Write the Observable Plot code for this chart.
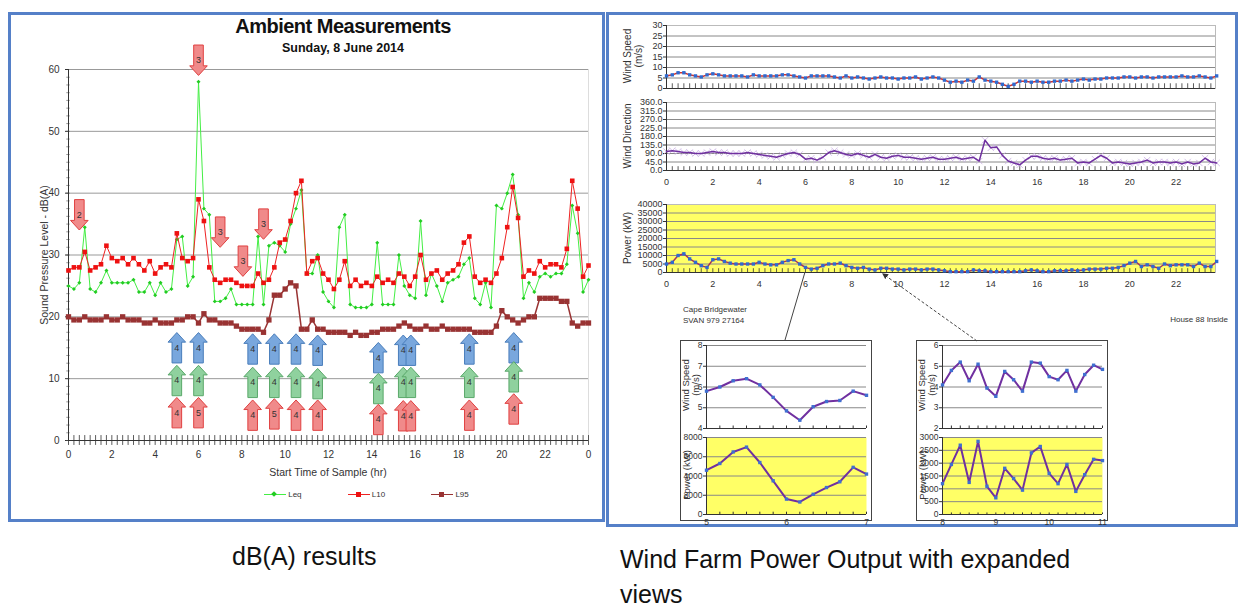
<!DOCTYPE html>
<html><head><meta charset="utf-8">
<script src="https://cdn.jsdelivr.net/npm/d3@7"></script>
<script src="https://cdn.jsdelivr.net/npm/@observablehq/plot@0.6"></script>
<style>
body{margin:0;background:#fff;}
#root{position:relative;width:1241px;height:609px;overflow:hidden;font-family:"Liberation Sans Narrow","Liberation Sans",Arial,sans-serif;}
.abs{position:absolute;}
.frame{position:absolute;border:3px solid #5580c8;box-sizing:border-box;background:#fff;}
.box{position:absolute;border:1.5px solid #444;box-sizing:border-box;}
.vl{position:absolute;transform:translate(-50%,-50%) rotate(-90deg);white-space:nowrap;color:#333;text-align:center;line-height:1.05;}
</style></head>
<body><div id="root"></div>
<script>
// ---------- DATA ----------
const sampleStep = 0.25;
const L10 = [27.5,28,28,30.5,27.5,28,28.5,31.5,29.5,29,29.5,28.5,29.5,28.5,27.5,29,
 27,28,28.5,28,33.5,29.5,29,29.5,39,35.5,28,26,25.5,26,26,25.5,
 25,25,25,27,25.5,26,28,32,32.5,35.5,40,42,27,29,29.5,27,
 26,24.5,26,29,25,26,25,25.5,25,26.5,25.5,26,25.5,27,26.5,25,
 26.5,30,26,27,27.5,26,27,27.5,28.5,32,33,26.5,25.5,26,25.5,27,
 29.5,34.5,41,36,26.5,27.5,27,29,28,28.5,28.5,28,31,42,37.5,26.5,28.3];
const Leq = [25,24.5,25.5,34.5,24.5,24,25.5,27.5,25.5,25.5,25.5,25.5,26,24,24,25.5,
 23.5,25.5,24,24.5,32.5,33,25,26.5,58,37.5,36.5,22.5,22.5,23,24.5,22,
 22,22,22,33,22,31.5,32,31.5,30.5,35,37.5,40.5,27,27,30,24,
 22.5,21.5,34.5,36.5,22,21.5,21.5,21.5,22,32,22,22,22,30,25,23.5,
 23,35.5,23.5,27,25,22.5,25.5,26,26.5,28.5,29.5,23,22,25.5,21.5,38,
 37.5,40,43,36.5,23,25.5,24,26.5,27,26.5,27,27,28.5,38,33.5,24,26];
const L95 = [20,19.5,19.5,20,19.5,19.5,19.5,20,19.5,19.5,20,19.5,19.5,19.5,19,19,
 19.5,19,19,19,19.5,19.5,20,20,19,20.5,19.5,19.5,19,19,19,18.5,
 18,18,18,18,17.5,19.5,23.5,23.5,24.5,25.5,25,18,18,19.5,18,18,
 17.5,17.5,17.5,17.5,17,17.5,17,17,17.5,17.5,18,18,18,18.5,19,18.5,
 18,18,18.5,18,18,18.5,18,18,18,18,18,17.5,17.5,17.5,17.5,18.5,
 21,20,19.5,19,19.5,20,20,23,23,23,23,22.5,22.5,19,18.5,19,19];
const upArrowHours = [5.0,6.0,8.5,9.5,10.5,11.5,14.3,15.45,15.8,18.5,20.55];
const blueY  = [15,15,14.8,14.8,14.8,14.6,13.4,14.6,14.6,14.8,15];
const greenY = [9.7,9.7,9.4,9.4,9.4,9.2,8.4,9.4,9.4,9.4,10.3];
const redY   = [4.5,4.5,4.1,4.3,4.1,4.1,3.4,4.0,4.0,4.1,5.1];
const redLabels = ["4","5","4","5","4","4","4","4","4","4","4"];
const downArrowHours = [0.5,6.0,7.0,8.05,9.0];
const downArrowY = [36.5,61.5,33.7,29,35];
const downLabels = ["2","3","3","3","3"];

const windSpeed = [6,6.5,7.5,7.5,6.5,6,5.5,6.5,7,6.5,6,6,6,6,5.5,6.5,
 6,6,6,6,6.5,6.5,6,5.5,5,6,6,6,6,5.5,5,6,
 5,5.5,5,4.5,5,5.5,5,5,4.5,5,5,5.5,4.5,5,5.5,5,
 4,3,3.5,3,4,3.5,5.5,4,3.5,3,2,1,2,3.5,3.5,3,
 3.5,3,3,3.5,3.5,4,3.5,4,4.5,4,4.5,4.5,5,5,5,5.5,
 5.5,5,5.5,5.5,5,5.5,5.5,5.5,5.5,6,5.5,5.5,6,5.5,5,6];
const windDir = [100,105,100,95,95,90,90,95,100,95,95,90,90,90,95,90,
 85,80,75,70,80,90,95,85,60,65,55,70,95,105,95,85,
 80,90,80,70,85,70,65,75,80,70,70,65,60,65,70,60,
 60,65,70,60,65,70,50,160,120,125,80,50,40,30,55,75,
 75,65,60,65,55,60,65,40,45,40,60,80,65,40,45,40,
 35,40,45,55,40,45,45,40,45,35,45,35,40,65,45,40];
const power = [5000,6000,10000,11000,8000,6000,4000,3000,7500,8000,6500,5500,5000,5000,5000,5000,
 6000,5000,4500,4500,6000,7000,7500,5000,3000,2000,2500,4000,5000,5000,5500,4000,
 3000,2500,3000,2000,1500,2500,2500,2000,2000,1500,2000,2000,1500,2000,2000,1500,
 1000,500,500,500,500,1500,1000,1000,500,500,500,500,500,500,1000,1500,
 1000,500,500,1000,1000,1000,1500,1000,1500,2000,2000,2000,2500,2500,3000,4000,
 5500,6500,3500,4500,3500,2500,5000,4000,4500,4500,4500,3500,5500,3500,3500,6500];
const insetStep = 1/6;
const insetA_start = 5, insetB_start = 8;
const insetA_speed = [5.8,6.0,6.3,6.4,6.1,5.5,4.85,4.4,5.05,5.3,5.35,5.8,5.6];
const insetA_power = [4600,5300,6500,7000,5400,3500,1600,1300,2100,2800,3400,4900,4200];
const insetB_speed = [4.1,4.8,5.2,4.3,5.1,3.95,3.55,4.75,4.35,3.8,5.2,5.15,4.5,4.35,4.8,3.8,4.6,5.05,4.85];
const insetB_power = [1200,1950,2700,1250,2850,1100,650,1800,1400,950,2400,2650,1600,1200,1950,900,1550,2150,2100];

// ---------- HELPERS ----------
const root = document.getElementById("root");
const FONT = '"Liberation Sans Narrow","Liberation Sans",Arial,sans-serif';
const plain = d => String(d);
function place(el, left, top){ el.style.position="absolute"; el.style.left=left+"px"; el.style.top=top+"px"; root.append(el); return el; }
function div(cls, html, css){ const d=document.createElement("div"); d.className=cls; d.innerHTML=html; Object.assign(d.style, css||{}); root.append(d); return d; }
function vlabel(html, cx, cy, size){ div("vl", html, {left:cx+"px", top:cy+"px", fontSize:size+"px"}); }
const series = (arr, step, start=0) => arr.map((v,i)=>({t:start+i*step, v}));

div("frame","",{left:"8px",top:"12px",width:"597px",height:"510px"});
div("frame","",{left:"606px",top:"12px",width:"632px",height:"515px"});

// ---------- LEFT CHART ----------
div("abs","Ambient Measurements",{left:"180px",width:"326px",top:"15px",textAlign:"center",fontSize:"20px",fontWeight:"bold",color:"#111",letterSpacing:"-0.5px"});
div("abs","Sunday, 8 June 2014",{left:"180px",width:"326px",top:"41px",textAlign:"center",fontSize:"12.5px",fontWeight:"bold",color:"#111"});

const upSym = {draw(c,size){const r=Math.sqrt(size/Math.PI);
  c.moveTo(0,-1.9*r); c.lineTo(1.1*r,-0.7*r); c.lineTo(0.6*r,-0.7*r); c.lineTo(0.6*r,1.9*r);
  c.lineTo(-0.6*r,1.9*r); c.lineTo(-0.6*r,-0.7*r); c.lineTo(-1.1*r,-0.7*r); c.closePath();}};
const downSym = {draw(c,size){const r=Math.sqrt(size/Math.PI);
  c.moveTo(0,1.9*r); c.lineTo(1.1*r,0.7*r); c.lineTo(0.6*r,0.7*r); c.lineTo(0.6*r,-1.9*r);
  c.lineTo(-0.6*r,-1.9*r); c.lineTo(-0.6*r,0.7*r); c.lineTo(-1.1*r,0.7*r); c.closePath();}};

const dL10 = series(L10, sampleStep), dLeq = series(Leq, sampleStep), dL95 = series(L95, sampleStep);
const up = [];
upArrowHours.forEach((h,i)=>{
  up.push({t:h, y:blueY[i], fill:"#79a7dd", stroke:"#4a7ebb", label:"4"});
  up.push({t:h, y:greenY[i], fill:"#8fd19e", stroke:"#5aa86a", label:"4"});
  up.push({t:h, y:redY[i], fill:"#f08a8a", stroke:"#e04040", label:redLabels[i]});
});
const down = downArrowHours.map((h,i)=>({t:h, y:downArrowY[i], label:downLabels[i]}));
const minor = d3.range(0, 24.001, 0.25);

const left = Plot.plot({
  width:590, height:440, marginLeft:58, marginRight:12, marginTop:29, marginBottom:40,
  style:{fontFamily:FONT, fontSize:"10px", color:"#333", background:"transparent"},
  x:{domain:[0,24], axis:null}, y:{domain:[0,60], axis:null},
  marks:[
    Plot.gridY(d3.range(10,61,10), {stroke:"#999", strokeOpacity:1}),
    Plot.ruleX([24], {stroke:"#ddd"}),
    Plot.axisY({ticks:d3.range(0,61,10), tickSize:3, label:null}),
    Plot.ruleY(d3.range(0,60,1.25), {x1:-0.08, x2:0.08, stroke:"#555", strokeWidth:0.6}),
    Plot.axisX({ticks:d3.range(0,25,2), tickFormat:d=>d%24, tickSize:0, tickPadding:10, label:null}),
    Plot.ruleX(minor, {y1:-0.8, y2:0.8, stroke:"#333", strokeWidth:0.8}),
    Plot.ruleY([0], {stroke:"#333"}),
    Plot.ruleX([0], {stroke:"#333"}),
    Plot.line(dL95, {x:"t", y:"v", stroke:"#993333", strokeWidth:1.5}),
    Plot.dot(dL95, {x:"t", y:"v", symbol:"square", r:3, fill:"#993333"}),
    Plot.line(dLeq, {x:"t", y:"v", stroke:"#44ee44", strokeWidth:1}),
    Plot.dot(dLeq, {x:"t", y:"v", symbol:"diamond2", r:1.8, fill:"#22cc22", stroke:"none"}),
    Plot.line(dL10, {x:"t", y:"v", stroke:"#ee2222", strokeWidth:1}),
    Plot.dot(dL10, {x:"t", y:"v", symbol:"square", r:2.6, fill:"#ee1111"}),
    Plot.dot(up, {x:"t", y:"y", symbol:upSym, r:8, fill:d=>d.fill, stroke:d=>d.stroke, strokeWidth:1}),
    Plot.text(up, {x:"t", y:"y", text:"label", fontSize:9, fill:"#333"}),
    Plot.dot(down, {x:"t", y:"y", symbol:downSym, r:8, fill:"#f08a8a", stroke:"#e04040", strokeWidth:1}),
    Plot.text(down, {x:"t", y:"y", text:"label", fontSize:9, fill:"#333"})
  ]
});
place(left, 10, 40);
div("abs","Start Time of Sample (hr)",{left:"228px",width:"200px",top:"466px",textAlign:"center",fontSize:"10.5px",color:"#333"});
vlabel("Sound Pressure Level - dB(A)", 45, 255, 10.5);
div("abs",
 '<span style="display:inline-block;width:22px;border-top:1px solid #44ee44;vertical-align:middle;position:relative"><span style="position:absolute;left:8px;top:-3px;width:4px;height:4px;background:#22cc22;transform:rotate(45deg)"></span></span> Leq'+
 '<span style="display:inline-block;width:46px"></span><span style="display:inline-block;width:22px;border-top:1px solid #e22;vertical-align:middle;position:relative"><span style="position:absolute;left:8px;top:-3px;width:5px;height:5px;background:#e11"></span></span> L10'+
 '<span style="display:inline-block;width:46px"></span><span style="display:inline-block;width:22px;border-top:1.5px solid #933;vertical-align:middle;position:relative"><span style="position:absolute;left:8px;top:-3px;width:5px;height:5px;background:#933"></span></span> L95',
 {left:"264px",top:"490px",fontSize:"8px",color:"#333",whiteSpace:"nowrap"});

// ---------- RIGHT MAIN CHARTS ----------
const RX = [0, 23.7];
const rStyle = {fontFamily:FONT, fontSize:"9px", color:"#333", background:"transparent"};
const rMinor = d3.range(0, 23.7, 0.25);
function rightPlot({data, yTicks, yFmt, height, mt, mb, showX, yellow, lineColor, dotColor, extra}){
  return Plot.plot({
    width:610, height, marginLeft:54, marginRight:7, marginTop:mt, marginBottom:mb,
    style:rStyle, x:{domain:RX, axis:null}, y:{domain:[yTicks[0], yTicks[yTicks.length-1]], axis:null},
    marks:[
      yellow ? Plot.frame({fill:"#ffff66", stroke:"none"}) : null,
      Plot.gridY(yTicks, {stroke:"#888", strokeOpacity:1}),
      Plot.frame({stroke:"#bbb"}),
      Plot.axisY({ticks:yTicks, tickFormat:yFmt, tickSize:3, tickPadding:1, label:null}),
      showX ? Plot.axisX({ticks:d3.range(0,23,2), tickSize:0, tickPadding:8, label:null}) : null,
      Plot.ruleX(rMinor, {y1:yTicks[0], y2:yTicks[0]+(yTicks[1]-yTicks[0])*0.45, stroke:"#333", strokeWidth:0.8}),
      Plot.ruleY([yTicks[0]], {stroke:"#333"}),
      Plot.ruleX([0], {stroke:"#333"}),
      ...(extra||[]),
      Plot.line(data, {x:"t", y:"v", stroke:lineColor, strokeWidth:1.5}),
      dotColor ? Plot.dot(data, {x:"t", y:"v", symbol:"square", r:1.9, fill:dotColor}) : null
    ]
  });
}
const dWS = series(windSpeed, sampleStep), dWD = series(windDir, sampleStep), dPW = series(power, sampleStep);
place(rightPlot({data:dWS, yTicks:d3.range(0,31,5), yFmt:plain, height:84, mt:15, mb:6, showX:false, lineColor:"#cc3333", dotColor:"#2f6bd0"}), 612, 10);
place(rightPlot({data:dWD, yTicks:d3.range(0,361,45), yFmt:d=>d.toFixed(1), height:106, mt:13, mb:25, showX:true, lineColor:"#7030a0", dotColor:null,
  extra:[Plot.dot(dWD, {x:"t", y:"v", symbol:"times", r:3, stroke:"#c9b0e3", strokeWidth:0.8})]}), 612, 89);
place(rightPlot({data:dPW, yTicks:d3.range(0,40001,5000), yFmt:plain, height:106, mt:13, mb:25, showX:true, yellow:true, lineColor:"#aa3355", dotColor:"#2f6bd0"}), 612, 191);
vlabel("Wind Speed<br>(m/s)", 633, 56, 10);
vlabel("Wind Direction", 628, 136, 10);
vlabel("Power (kW)", 628, 238, 10);
div("abs","Cape Bridgewater<br>SVAN 979 27164",{left:"683px",top:"304px",fontSize:"8px",lineHeight:"11px",color:"#333"});
div("abs","House 88 Inside",{left:"1150px",width:"78px",textAlign:"right",top:"315px",fontSize:"8px",color:"#333"});

// ---------- INSETS ----------
function insetPlot({data, x0, x1, xTicks, yTicks, height, mt, mb, showX, yellow}){
  return Plot.plot({
    width:192, height, marginLeft:24, marginRight:8, marginTop:mt, marginBottom:mb,
    style:{fontFamily:FONT, fontSize:"8.5px", color:"#333", background:"transparent"},
    x:{domain:[x0,x1], axis:null}, y:{domain:[yTicks[0], yTicks[yTicks.length-1]], axis:null},
    marks:[
      yellow ? Plot.frame({fill:"#ffff66", stroke:"none"}) : null,
      Plot.gridY(yTicks, {stroke:"#888", strokeOpacity:1}),
      Plot.axisY({ticks:yTicks, tickFormat:plain, tickSize:3, tickPadding:1, label:null}),
      showX ? Plot.axisX({ticks:xTicks, tickFormat:plain, tickSize:0, tickPadding:4, label:null}) : null,
      Plot.ruleX(data, {x:"t", y1:yTicks[0], y2:yTicks[0]+(yTicks[1]-yTicks[0])*0.12, stroke:"#333"}),
      Plot.ruleY([yTicks[0]], {stroke:"#333"}),
      Plot.ruleX([x0], {stroke:"#333"}),
      Plot.line(data, {x:"t", y:"v", stroke:"#7030a0", strokeWidth:2}),
      Plot.dot(data, {x:"t", y:"v", symbol:"square", r:1.9, fill:"#3f6fd0"})
    ]
  });
}
function inset(left, speed, pw, start, pwTicks, spTicks, xTicks){
  div("box","",{left:left+"px",top:"340px",width:"192px",height:"181px"});
  const x1 = start + (speed.length-1)*insetStep;
  place(insetPlot({data:series(speed, insetStep, start), x0:start, x1, xTicks, yTicks:spTicks, height:96, mt:9, mb:4}), left+2, 336);
  place(insetPlot({data:series(pw, insetStep, start), x0:start, x1, xTicks, yTicks:pwTicks, height:102, mt:9, mb:16, showX:true, yellow:true}), left+2, 428);
  vlabel("Wind Speed<br>(m/s)", left+11, 385, 9.5);
  vlabel("Power (kW)", left+7, 475, 9.5);
}
inset(680, insetA_speed, insetA_power, insetA_start, d3.range(0,8001,2000), [4,5,6,7,8], [5,6,7]);
inset(916, insetB_speed, insetB_power, insetB_start, d3.range(0,3001,500), [2,3,4,5,6], [8,9,10,11]);

const ns="http://www.w3.org/2000/svg";
const ov=document.createElementNS(ns,"svg"); ov.setAttribute("width",1241); ov.setAttribute("height",609);
ov.style.position="absolute"; ov.style.left="0"; ov.style.top="0"; ov.style.pointerEvents="none";
ov.innerHTML='<defs><marker id="ah" viewBox="0 0 10 10" refX="2" refY="5" markerWidth="6" markerHeight="6" orient="auto-start-reverse"><path d="M0,0L10,5L0,10z" fill="#333"/></marker></defs>'+
 '<line x1="805" y1="272" x2="785" y2="340" stroke="#444" stroke-width="1"/>'+
 '<line x1="977" y1="341" x2="886" y2="276" stroke="#444" stroke-width="1" stroke-dasharray="3,2" marker-end="url(#ah)"/>';
root.append(ov);

div("abs","dB(A) results",{left:"232px",top:"542px",fontSize:"25px",fontFamily:'"Liberation Sans",Arial,sans-serif',color:"#111"});
div("abs","Wind Farm Power Output with expanded<br>views",{left:"620px",top:"542px",fontSize:"25px",lineHeight:"35px",fontFamily:'"Liberation Sans",Arial,sans-serif',color:"#111"});
</script></body></html>
